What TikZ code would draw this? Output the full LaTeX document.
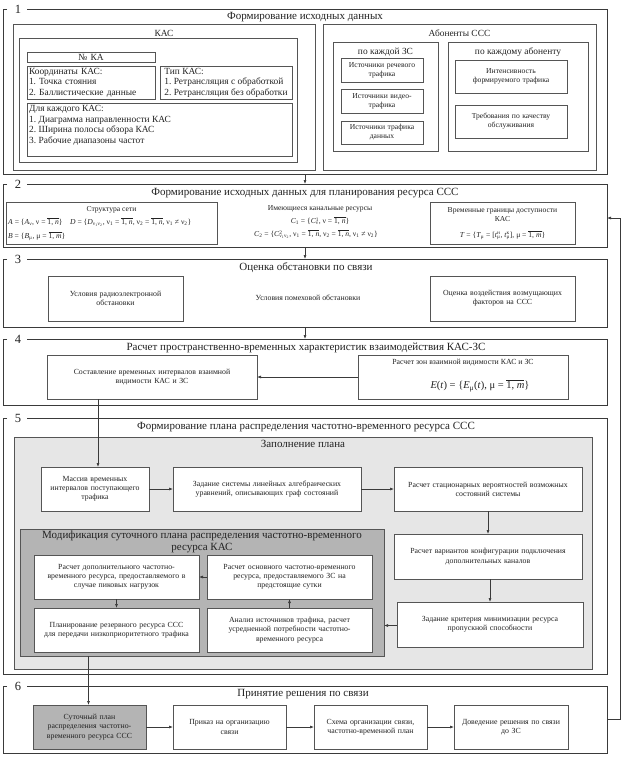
\documentclass[tikz,border=0pt]{standalone}
\usepackage{amsmath}
\usepackage{fontspec}
\setmainfont{Liberation Serif}
\usetikzlibrary{arrows.meta,calc}
\definecolor{fr}{HTML}{3A3A3A}
\definecolor{bc}{HTML}{555555}
\definecolor{tx}{HTML}{222222}
\definecolor{lg}{HTML}{E6E6E6}
\definecolor{dg}{HTML}{B4B4B4}
\frenchspacing
\newcommand{\fTitle}{\fontsize{11}{12.5}\selectfont}
\newcommand{\fMod}{\fontsize{11}{12.5}\selectfont}
\newcommand{\fNum}{\fontsize{12.5}{13}\selectfont}
\newcommand{\fKas}{\fontsize{9.4}{10.6}\selectfont}
\newcommand{\fBox}{\fontsize{7.8}{9.2}\selectfont}
\newcommand{\fSm}{\fontsize{7.6}{9}\selectfont}
\newcommand{\fBig}{\fontsize{10.5}{12.5}\selectfont}
\newcommand{\ovl}[1]{\ensuremath{\overline{\mbox{#1}}}}
\newcommand{\ssc}[2]{\rlap{\textsuperscript{#1}}\textsubscript{#2}}
\newcommand{\secframe}[2]{%
  \draw[frame] ([xshift=4pt]#1.north west) -- (#1.north west) -- (#1.south west) -- (#1.south east) -- (#1.north east) -- ([xshift=24pt]#1.north west);
  \node[num] at ([xshift=15pt]#1.north west) {#2};}
\begin{document}
\begin{tikzpicture}[x=1pt,y=-1pt,
  every node/.style={text=tx},
  frame/.style={draw=fr,line width=1pt},
  sec/.style={minimum width=604pt,inner sep=0pt,outer sep=0pt},
  box/.style={draw=bc,line width=0.75pt,fill=white,align=center,inner xsep=2pt,inner ysep=0pt,outer sep=0pt},
  grp/.style={draw=bc,line width=0.9pt,inner sep=0pt,outer sep=0pt},
  lbl/.style={inner sep=0pt,align=center},
  num/.style={inner sep=0pt,font=\fNum},
  arr/.style={draw=fr,line width=0.6pt,-{Latex[length=4pt,width=3pt]}}]
\useasboundingbox (0,0) rectangle (643,758);
\fill[white] (0,0) rectangle (643,758);

% ---------------- Section 1
\node[sec,minimum height=165pt] (s1) at (305,91.5) {};
\secframe{s1}{1}
\node[lbl,font=\fTitle] (t1) at (305,17) {Формирование исходных данных};
\node[grp,minimum width=302pt,minimum height=146pt] (kas) at (164,97) {};
\node[lbl,font=\fKas] (tkas) at (164,33) {КАС};
\node[grp,minimum width=278pt,minimum height=124pt] (kasin) at (158,100) {};
\node[box,font=\fKas,text width=124pt,minimum height=10pt] (nka) at (91,57) {№ КА};
\node[box,font=\fKas,align=left,text width=124pt,minimum height=33pt] (koord) at (91,82.5) {Координаты КАС:\\1. Точка стояния\\2. Баллистические данные};
\node[box,font=\fKas,align=left,inner xsep=0pt,minimum width=132pt,minimum height=33pt] (tip) at (226,82.5) {Тип КАС:\\1. Ретрансляция с обработкой\\2. Ретрансляция без обработки};
\node[box,text width=261pt,minimum height=53pt] (dlya) at (159.5,129.5) {};
\node[lbl,font=\fKas,align=left,anchor=north west] (tdlya) at (29,105) {Для каждого КАС:\\1. Диаграмма направленности КАС\\2. Ширина полосы обзора КАС\\3. Рабочие диапазоны частот};

\node[grp,minimum width=273pt,minimum height=146pt] (ab) at (459.5,97) {};
\node[lbl,font=\fKas] (tab) at (459.5,33) {Абоненты ССС};
\node[grp,minimum width=105pt,minimum height=109pt] (pozs) at (385.5,96.5) {};
\node[lbl,font=\fKas] (tpozs) at (385.5,52) {по каждой ЗС};
\node[box,font=\fSm,text width=78pt,minimum height=24pt] (rech) at (382,70) {Источники речевого\\трафика};
\node[box,font=\fSm,text width=78pt,minimum height=24pt] (video) at (382,101) {Источники видео-\\трафика};
\node[box,font=\fSm,text width=78pt,minimum height=23pt] (dann) at (382,132.5) {Источники трафика\\данных};
\node[grp,minimum width=140pt,minimum height=109pt] (poab) at (518,96.5) {};
\node[lbl,font=\fKas] (tpoab) at (518,52) {по каждому абоненту};
\node[box,font=\fSm,text width=108pt,minimum height=33pt] (intens) at (511,76.5) {Интенсивность\\формируемого трафика};
\node[box,font=\fSm,text width=108pt,minimum height=33pt] (treb) at (511,121.5) {Требования по качеству\\обслуживания};

% ---------------- Section 2
\node[sec,minimum height=63pt] (s2) at (305,215.5) {};
\secframe{s2}{2}
\node[lbl,font=\fTitle] (t2) at (305,193) {Формирование исходных данных для планирования ресурса ССС};
\node[box,text width=207pt,minimum height=42pt] (struct) at (111.5,223) {};
\node[lbl,font=\fSm] (tstruct) at (111.5,209.5) {Структура сети};
\node[lbl,font=\fSm,anchor=west] (fad) at (8,222) {\textit{A} = \{\textit{A}\textsubscript{ν}, ν = \ovl{1, \textit{n}}\}\quad \textit{D} = \{\textit{D}\textsubscript{ν\textsubscript{1}ν\textsubscript{2}}, ν\textsubscript{1} = \ovl{1, \textit{n}}, ν\textsubscript{2} = \ovl{1, \textit{n}}, ν\textsubscript{1} ≠ ν\textsubscript{2}\}};
\node[lbl,font=\fSm,anchor=west] (fb) at (8,236.5) {\textit{B} = \{\textit{B}\textsubscript{μ}, μ = \ovl{1, \textit{m}}\}};
\node[lbl,font=\fSm] (tkan) at (320,208.5) {Имеющиеся канальные ресурсы};
\node[lbl,font=\fSm] (fc1) at (320,221) {\textit{C}\textsubscript{1} = \{\textit{C}\ssc{1}{ν}, ν = \ovl{1, \textit{n}}\}};
\node[lbl,font=\fSm] (fc2) at (316,234.5) {\textit{C}\textsubscript{2} = \{\textit{C}\ssc{2}{ν\textsubscript{1}ν\textsubscript{2}}, ν\textsubscript{1} = \ovl{1, \textit{n}}, ν\textsubscript{2} = \ovl{1, \textit{n}}, ν\textsubscript{1} ≠ ν\textsubscript{2}\}};
\node[box,text width=141pt,minimum height=42pt] (tgr) at (502.5,223) {};
\node[lbl,font=\fSm] (ttgr) at (502.5,214.5) {Временные границы доступности\\КАС};
\node[lbl,font=\fSm] (ft) at (502.5,235) {\textit{T} = \{\textit{T}\textsubscript{μ} = [\textit{t}\ssc{н}{μ}, \textit{t}\ssc{к}{μ}], μ = \ovl{1, \textit{m}}\}};

% ---------------- Section 3
\node[sec,minimum height=68pt] (s3) at (305,293) {};
\secframe{s3}{3}
\node[lbl,font=\fTitle] (t3) at (306,268) {Оценка обстановки по связи};
\node[box,font=\fBox,text width=131pt,minimum height=45pt] (radio) at (115.5,298.5) {Условия радиоэлектронной\\обстановки};
\node[lbl,font=\fBox] (pomeh) at (308,298) {Условия помеховой обстановки};
\node[box,font=\fBox,text width=141pt,minimum height=45pt] (ocen) at (502.5,298.5) {Оценка воздействия возмущающих\\факторов на ССС};

% ---------------- Section 4
\node[sec,minimum height=66pt] (s4) at (305,372) {};
\secframe{s4}{4}
\node[lbl,font=\fTitle] (t4) at (306,348) {Расчет пространственно-временных характеристик взаимодействия КАС-ЗС};
\node[box,font=\fBox,text width=206pt,minimum height=44pt] (sost) at (152,377) {Составление временных интервалов взаимной\\видимости КАС и ЗС};
\node[box,text width=206pt,minimum height=44pt] (rzon) at (463,377) {};
\node[lbl,font=\fBox] (trzon) at (463,363) {Расчет зон взаимной видимости КАС и ЗС};
\node[lbl,font=\fBig] (fe) at (480,386) {\textit{E}(\textit{t}) = \{\textit{E}\textsubscript{μ}(\textit{t}), μ = \ovl{1, \textit{m}}\}};

% ---------------- Section 5
\node[sec,minimum height=256pt] (s5) at (305,546) {};
\secframe{s5}{5}
\node[lbl,font=\fTitle] (t5) at (306,427) {Формирование плана распределения частотно-временного ресурса ССС};
\node[grp,fill=lg,minimum width=578pt,minimum height=232pt] (zap) at (303,553) {};
\node[lbl,font=\fTitle] (tzap) at (303,444) {Заполнение плана};
\node[box,font=\fBox,text width=104pt,minimum height=44pt] (massiv) at (95,489) {Массив временных\\интервалов поступающего\\трафика};
\node[box,font=\fBox,text width=184pt,minimum height=44pt] (zsys) at (267,489) {Задание системы линейных алгебраических\\уравнений, описывающих граф состояний};
\node[box,font=\fBox,text width=184pt,minimum height=44pt] (rstat) at (488,489) {Расчет стационарных вероятностей возможных\\состояний системы};
\node[box,font=\fBox,text width=184pt,minimum height=45pt] (rvar) at (488,556.5) {Расчет вариантов конфигурации подключения\\дополнительных каналов};
\node[box,font=\fBox,text width=182pt,minimum height=45pt] (zkrit) at (490,624.5) {Задание критерия минимизации ресурса\\пропускной способности};
\node[grp,fill=dg,minimum width=364pt,minimum height=127pt] (mod) at (202,592.5) {};
\node[lbl,font=\fMod] (tmod) at (202,542) {Модификация суточного плана распределения частотно-временного\\ресурса КАС};
\node[box,font=\fBox,text width=161pt,minimum height=44pt] (dop) at (116.5,577) {Расчет дополнительного частотно-\\временного ресурса, предоставляемого в\\случае пиковых нагрузок};
\node[box,font=\fBox,text width=161pt,minimum height=44pt] (osn) at (289.5,577) {Расчет основного частотно-временного\\ресурса, предоставляемого ЗС на\\предстоящие сутки};
\node[box,font=\fBox,text width=161pt,minimum height=44pt] (plan) at (116.5,630) {Планирование резервного ресурса ССС\\для передачи низкоприоритетного трафика};
\node[box,font=\fBox,text width=161pt,minimum height=44pt] (anal) at (289.5,630) {Анализ источников трафика, расчет\\усредненной потребности частотно-\\временного ресурса};

% ---------------- Section 6
\node[sec,minimum height=67pt] (s6) at (305,719.5) {};
\secframe{s6}{6}
\node[lbl,font=\fTitle] (t6) at (303,694) {Принятие решения по связи};
\node[box,fill=dg,font=\fBox,text width=109pt,minimum height=44pt] (sut) at (89.5,727) {Суточный план\\распределения частотно-\\временного ресурса ССС};
\node[box,font=\fBox,text width=109pt,minimum height=44pt] (prik) at (229.5,727) {Приказ на организацию\\связи};
\node[box,font=\fBox,text width=109pt,minimum height=44pt] (shem) at (370.5,727) {Схема организации связи,\\частотно-временной план};
\node[box,font=\fBox,text width=110pt,minimum height=44pt] (dov) at (511,727) {Доведение решения по связи\\до ЗС};

% ---------------- Connectors
\draw[arr] (s1.south) -- (s2.north);
\draw[arr] (s2.south) -- (s3.north);
\draw[arr] (s3.south) -- (s4.north);
\draw[arr] (rzon.west) -- (sost.east);
\draw[arr] ([xshift=3pt]massiv.north |- sost.south) -- ([xshift=3pt]massiv.north);
\draw[arr] (massiv.east) -- (zsys.west);
\draw[arr] (zsys.east) -- (rstat.west);
\draw[arr] (rstat.south) -- (rvar.north);
\draw[arr] ([xshift=2pt]rvar.south) -- ([xshift=2pt]rvar.south |- zkrit.north);
\draw[arr] ([yshift=-1pt]zkrit.west) -- ([yshift=-1pt]zkrit.west -| mod.east);
\draw[arr] (osn.west) -- (dop.east);
\draw[arr] (dop.south) -- (plan.north);
\draw[arr] (anal.north) -- (osn.south);
\draw[arr] ([xshift=-1pt]sut.north |- mod.south) -- ([xshift=-1pt]sut.north);
\draw[arr] (prik.west -| sut.east) -- (prik.west);
\draw[arr] (prik.east) -- (shem.west);
\draw[arr] (shem.east) -- (dov.west);
\coordinate (fbr) at (620,0);
\draw[arr] (s6.east) -- (s6.east -| fbr) |- ([yshift=-2.5pt]s2.east);
\end{tikzpicture}
\end{document}
